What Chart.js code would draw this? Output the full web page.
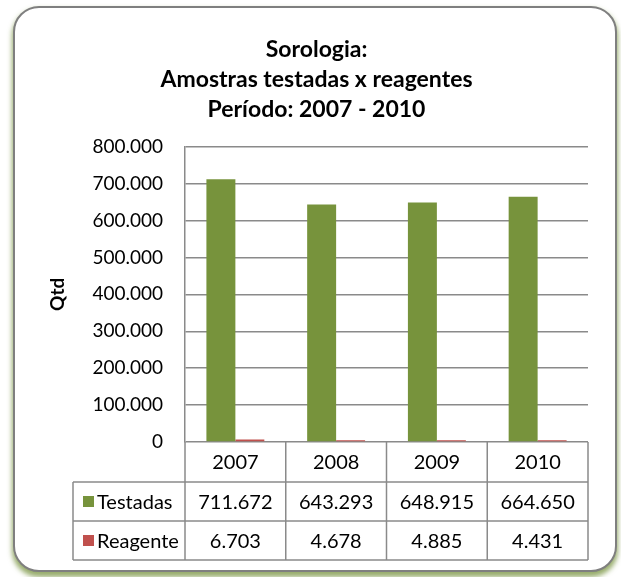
<!DOCTYPE html>
<html>
<head>
<meta charset="utf-8">
<script src="https://cdn.jsdelivr.net/npm/chart.js@4.4.1/dist/chart.umd.min.js"></script>
<style>
  html, body { margin: 0; padding: 0; background: #fff; overflow: hidden; }
  #wrap { position: relative; width: 621px; height: 577px; }
  #frame {
    position: absolute; left: 13px; top: 6px; width: 600px; height: 562px;
    border: 2px solid #7f7f7f; border-radius: 26px; background: #fff;
    box-shadow: 0 4px 5px 1px rgba(118, 146, 60, 0.75);
  }
  canvas { position: absolute; left: 0; top: 0; }
</style>
</head>
<body>
<div id="wrap">
  <div id="frame"></div>
  <canvas id="grafico" width="621" height="577"></canvas>
</div>
<script>
// dados
const anos = ['2007', '2008', '2009', '2010'];
const testadas = [711672, 643293, 648915, 664650];
const reagente = [6703, 4678, 4885, 4431];
const series = ['Testadas', 'Reagente'];
const yMax = 800000;
const yStep = 100000;

const verde = '#77933c';
const vermelho = '#c0504d';
const fonte = 'Lato, "Open Sans", sans-serif';

function fmt(v) {
    return String(v).replace(/\B(?=(\d{3})+(?!\d))/g, '.');
}

// tabela de dados abaixo do eixo
const tabela = {
    id: 'tabela',
    afterDraw(chart) {
        const ctx = chart.ctx;
        const a = chart.chartArea;
        const x = chart.scales.x;
        const n = chart.data.labels.length;
        const step = (a.right - a.left) / n;
        const legLeft = 73;
        const y0 = a.bottom, y1 = y0 + 40, y2 = y1 + 39, y3 = y2 + 39;

        ctx.save();
        ctx.strokeStyle = '#8a8a8a';
        ctx.lineWidth = 1.5;
        ctx.beginPath();
        for (let i = 0; i <= n; i++) {
            const xx = a.left + i * step;
            ctx.moveTo(xx, y0);
            ctx.lineTo(xx, y3);
        }
        ctx.moveTo(legLeft, y1);
        ctx.lineTo(legLeft, y3);
        [y1, y2, y3].forEach(yy => {
            ctx.moveTo(legLeft, yy);
            ctx.lineTo(a.right, yy);
        });
        ctx.stroke();

        ctx.fillStyle = '#000';
        ctx.font = '20px ' + fonte;
        ctx.textBaseline = 'middle';
        ctx.textAlign = 'center';
        chart.data.labels.forEach((lab, i) => {
            ctx.fillText(lab, x.getPixelForValue(i), (y0 + y1) / 2 + 1);
        });
        const rows = [[y1, y2], [y2, y3]];
        chart.data.datasets.forEach((ds, k) => {
            const yc = (rows[k][0] + rows[k][1]) / 2;
            ds.data.forEach((v, i) => {
                ctx.fillText(fmt(v), x.getPixelForValue(i), yc + 1);
            });
            ctx.fillStyle = ds.backgroundColor;
            ctx.fillRect(83, yc - 5.5, 11, 11);
            ctx.fillStyle = '#000';
            ctx.textAlign = 'left';
            ctx.fillText(ds.label, 97, yc + 1);
            ctx.textAlign = 'center';
        });
        ctx.restore();
    }
};

new Chart(document.getElementById('grafico'), {
    type: 'bar',
    data: {
        labels: anos,
        datasets: [
            { label: series[0], data: testadas, backgroundColor: verde },
            { label: series[1], data: reagente, backgroundColor: vermelho }
        ]
    },
    options: {
        responsive: false,
        animation: false,
        devicePixelRatio: 1,
        layout: { padding: { left: 45, right: 33, top: 0, bottom: 135 } },
        datasets: { bar: { categoryPercentage: 0.575, barPercentage: 1 } },
        plugins: {
            legend: { display: false },
            tooltip: { enabled: false },
            title: {
                display: true,
                text: ['Sorologia:', 'Amostras testadas x reagentes', 'Período: 2007 - 2010'],
                color: '#000',
                font: { family: fonte, size: 23, weight: 'bold', lineHeight: 1.3 },
                padding: { top: 35, bottom: 22 }
            }
        },
        scales: {
            x: { display: false },
            y: {
                min: 0,
                max: yMax,
                afterFit(scale) { scale.width = 140; },
                ticks: {
                    stepSize: yStep,
                    color: '#000',
                    padding: 22,
                    font: { family: fonte, size: 19 },
                    callback: v => fmt(v)
                },
                grid: { color: '#8a8a8a', lineWidth: 1.5, drawTicks: false },
                border: { color: '#8a8a8a', width: 1.5 },
                title: {
                    display: true,
                    text: 'Qtd',
                    color: '#000',
                    font: { family: fonte, size: 19, weight: 'bold' },
                    padding: { top: 1, bottom: 0 }
                }
            }
        }
    },
    plugins: [tabela]
});
</script>
</body>
</html>
